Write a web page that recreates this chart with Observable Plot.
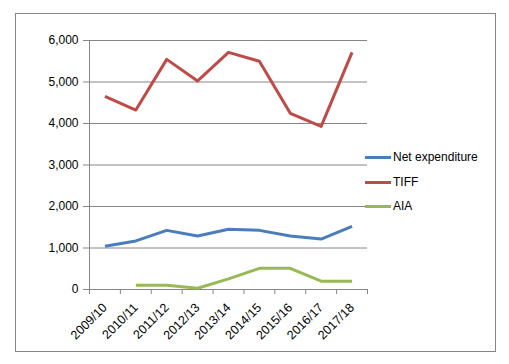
<!DOCTYPE html>
<html>
<head>
<meta charset="utf-8">
<script src="https://cdn.jsdelivr.net/npm/d3@7"></script>
<script src="https://cdn.jsdelivr.net/npm/@observablehq/plot@0.6"></script>
<style>
  html, body { margin: 0; padding: 0; background: #fff; }
  #wrap { position: relative; width: 509px; height: 364px; font-family: "Liberation Sans", Arial, sans-serif; font-size: 12px; color: #000; }
  #border { position: absolute; left: 15px; top: 13px; width: 479px; height: 337px; border: 1px solid #868686; pointer-events: none; }
  #chart { position: absolute; left: 0; top: 0; }
  .leg { position: absolute; left: 365px; height: 14px; display: flex; align-items: center; white-space: nowrap; }
  .leg .sw { width: 26px; height: 3px; margin-right: 2px; }
</style>
</head>
<body>
<div id="wrap">
  <div id="chart"></div>
  <div id="border"></div>
  <div id="legend"></div>
</div>
<script>
const categories = ["2009/10","2010/11","2011/12","2012/13","2013/14","2014/15","2015/16","2016/17","2017/18"];
const seriesNames = ["Net expenditure","TIFF","AIA"];
const seriesColors = ["#4A7EBB","#BE4B48","#98B954"];
const netExpenditure = [1040,1170,1425,1290,1450,1425,1290,1215,1520];
const tiff = [4655,4325,5545,5025,5715,5500,4245,3930,5715];
const aia = [null,100,100,30,255,510,510,200,200];
const yTicks = [0,1000,2000,3000,4000,5000,6000];

const seriesValues = [netExpenditure, tiff, aia];
const rows = [];
seriesNames.forEach((s, k) => {
  seriesValues[k].forEach((v, i) => {
    if (v !== null) rows.push({series: s, i: i, value: v});
  });
});

const grid = "#868686";
const plot = Plot.plot({
  width: 509,
  height: 364,
  marginLeft: 89,
  marginRight: 142,
  marginTop: 40,
  marginBottom: 75,
  style: {fontFamily: "'Liberation Sans', Arial, sans-serif", fontSize: "12px", color: "#000", background: "transparent"},
  x: {type: "linear", domain: [0, categories.length]},
  y: {domain: [0, 6000]},
  color: {domain: seriesNames, range: seriesColors},
  marks: [
    Plot.gridY(yTicks, {stroke: grid, strokeOpacity: 1}),
    Plot.axisY(yTicks, {tickSize: 6, tickPadding: 5, tickFormat: d3.format(","), stroke: grid, label: null}),
    Plot.ruleX([0], {stroke: grid}),
    Plot.ruleY([0], {stroke: grid}),
    Plot.axisX(d3.range(categories.length + 1), {tickSize: 5, tickFormat: () => "", stroke: grid, label: null}),
    Plot.axisX(categories.map((c, i) => i + 0.5), {tickSize: 0, tickPadding: 16, dx: 0, tickRotate: -45, fontSize: 12.5, tickFormat: (d) => categories[Math.floor(d)], label: null}),
    Plot.line(rows, {x: (d) => d.i + 0.5, y: "value", z: "series", stroke: "series", strokeWidth: 3, strokeLinejoin: "round", strokeLinecap: "butt"})
  ]
});
document.getElementById("chart").appendChild(plot);

const legend = document.getElementById("legend");
const legY = [150, 175, 199];
seriesNames.forEach((s, k) => {
  const d = document.createElement("div");
  d.className = "leg";
  d.style.top = legY[k] + "px";
  d.innerHTML = `<span class="sw" style="background:${seriesColors[k]}"></span><span>${s}</span>`;
  legend.appendChild(d);
});
</script>
</body>
</html>
